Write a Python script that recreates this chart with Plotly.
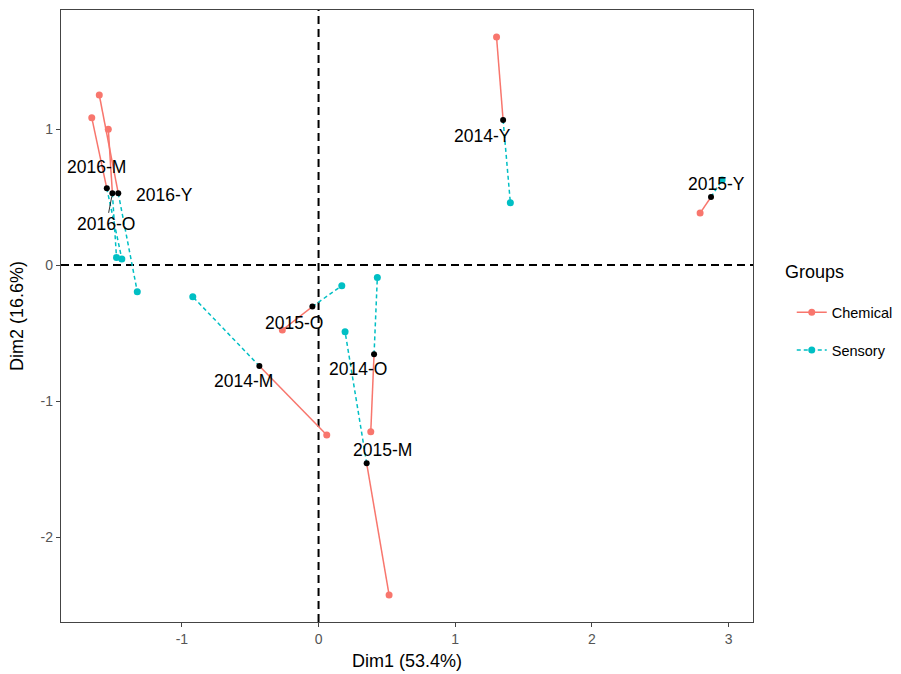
import plotly.graph_objects as go

# ---- data ----
individuals = ["2014-M", "2014-O", "2014-Y", "2015-M", "2015-O", "2015-Y", "2016-M", "2016-O", "2016-Y"]
mean_x = [-0.433, 0.406, 1.350, 0.352, -0.045, 2.871, -1.549, -1.508, -1.465]
mean_y = [-0.743, -0.657, 1.066, -1.458, -0.306, 0.500, 0.564, 0.527, 0.527]
chem_x = [0.060, 0.382, 1.302, 0.516, -0.265, 2.791, -1.659, -1.538, -1.604]
chem_y = [-1.250, -1.226, 1.676, -2.426, -0.478, 0.382, 1.083, 0.998, 1.250]
sens_x = [-0.920, 0.430, 1.403, 0.194, 0.170, 2.952, -1.439, -1.478, -1.326]
sens_y = [-0.233, -0.091, 0.458, -0.490, -0.152, 0.625, 0.045, 0.056, -0.196]
groups = ["Chemical", "Sensory"]
legend_title = "Groups"
x_title = "Dim1 (53.4%)"
y_title = "Dim2 (16.6%)"
x_ticks = [-1, 0, 1, 2, 3]
x_tick_text = ["-1", "0", "1", "2", "3"]
y_ticks = [-2, -1, 0, 1]
y_tick_text = ["-2", "-1", "0", "1"]

# ---- style ----
RED = "#F8766D"
TEAL = "#00BFC4"
FONT = "Liberation Sans, Arial, sans-serif"
LABEL_SIZE = 17.5
label_shift = {  # pixel offsets of labels (x right, y down)
    "2014-M": (-16, 15), "2014-O": (-16, 15), "2014-Y": (-21, 16),
    "2015-M": (16, -13), "2015-O": (-18, 16), "2015-Y": (5, -13),
    "2016-M": (-10, -21), "2016-O": (-6, 31), "2016-Y": (46, 2),
}


def segs(x0, y0, x1, y1):
    xs, ys = [], []
    for a, b, c, d in zip(x0, y0, x1, y1):
        xs += [a, c, None]
        ys += [b, d, None]
    return xs, ys


fig = go.Figure()

specs = [(groups[0], chem_x, chem_y, RED, "solid"),
         (groups[1], sens_x, sens_y, TEAL, "4px,3px")]

for name, px, py, col, dash in specs:
    lx, ly = segs(mean_x, mean_y, px, py)
    fig.add_trace(go.Scatter(x=lx, y=ly, mode="lines", line=dict(color=col, width=1.5, dash=dash),
                             showlegend=False, hoverinfo="skip", legendgroup=name))
    fig.add_trace(go.Scatter(x=px, y=py, mode="markers", marker=dict(color=col, size=7),
                             showlegend=False, legendgroup=name, text=individuals, name=name))
    fig.add_trace(go.Scatter(x=[None], y=[None], mode="lines+markers", name=name, legendgroup=name,
                             line=dict(color=col, width=1.5, dash=dash), marker=dict(color=col, size=7)))

fig.add_trace(go.Scatter(x=mean_x, y=mean_y, mode="markers", marker=dict(color="black", size=6),
                         showlegend=False, text=individuals))

for name, x, y in zip(individuals, mean_x, mean_y):
    dx, dy = label_shift[name]
    if name == "2016-O":
        fig.add_annotation(x=x, y=y, text=name, showarrow=True, arrowhead=0, arrowwidth=0.8,
                           arrowcolor="black", ax=dx, ay=dy, standoff=3,
                           font=dict(family=FONT, size=LABEL_SIZE, color="black"))
    else:
        fig.add_annotation(x=x, y=y, text=name, showarrow=False, xshift=dx, yshift=-dy,
                           font=dict(family=FONT, size=LABEL_SIZE, color="black"))

fig.add_annotation(xref="paper", yref="paper", x=1.044, y=0.572, xanchor="left", yanchor="middle",
                   text=legend_title, showarrow=False, font=dict(family=FONT, size=18, color="black"))

fig.add_shape(type="line", xref="x", yref="paper", x0=0, x1=0, y0=0, y1=1,
              line=dict(color="black", width=2, dash="8px,5px"), layer="below")
fig.add_shape(type="line", xref="paper", yref="y", x0=0, x1=1, y0=0, y1=0,
              line=dict(color="black", width=2, dash="8px,5px"), layer="below")

axis_common = dict(showgrid=False, zeroline=False, showline=True, mirror=True, automargin=False,
                   linecolor="#444444", linewidth=1.3, ticks="outside", ticklen=4,
                   tickcolor="#444444", tickwidth=1,
                   tickfont=dict(family=FONT, size=14, color="#555555"))

fig.update_layout(
    width=901, height=674,
    margin=dict(l=61, r=148, t=10, b=52, autoexpand=False),
    plot_bgcolor="white", paper_bgcolor="white",
    font=dict(family=FONT),
    xaxis=dict(range=[-1.884, 3.178], tickvals=x_ticks, ticktext=x_tick_text,
               title=dict(text=x_title, font=dict(family=FONT, size=18, color="black"), standoff=8),
               **axis_common),
    yaxis=dict(range=[-2.625, 1.875], tickvals=y_ticks, ticktext=y_tick_text,
               title=dict(text=y_title, font=dict(family=FONT, size=18, color="black"), standoff=12),
               **axis_common),
    legend=dict(font=dict(family=FONT, size=14.5, color="black"),
                x=1.056, xanchor="left", y=0.475, yanchor="middle",
                tracegroupgap=16, bgcolor="rgba(0,0,0,0)"),
    showlegend=True,
)

fig.write_html("out.html", config={"displayModeBar": False},
               post_script="document.body.style.margin='0';")
